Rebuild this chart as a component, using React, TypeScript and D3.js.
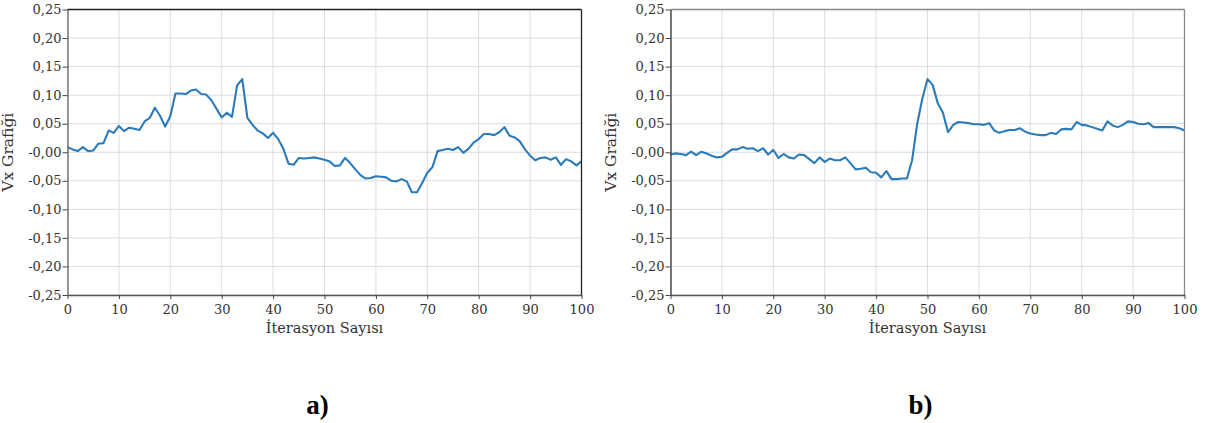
import { useEffect, useRef } from "react";
import * as d3 from "d3";

// Vx values per iteration (0..100)
const seriesA = [
  0.009, 0.005, 0.002, 0.009, 0.002, 0.003, 0.015, 0.016, 0.038, 0.034,
  0.046, 0.037, 0.043, 0.041, 0.039, 0.054, 0.06, 0.078, 0.064, 0.045,
  0.063, 0.103, 0.103, 0.102, 0.108, 0.11, 0.102, 0.101, 0.091, 0.076,
  0.061, 0.069, 0.062, 0.117, 0.128, 0.06, 0.048, 0.038, 0.033, 0.025,
  0.034, 0.023, 0.006, -0.02, -0.022, -0.01, -0.011, -0.01, -0.009, -0.011,
  -0.013, -0.016, -0.024, -0.023, -0.01, -0.019, -0.03, -0.04, -0.046, -0.045,
  -0.042, -0.043, -0.044, -0.05, -0.051, -0.047, -0.051, -0.07, -0.07, -0.054,
  -0.036, -0.026, 0.002, 0.004, 0.006, 0.004, 0.009, -0.001, 0.006, 0.017,
  0.023, 0.032, 0.032, 0.03, 0.035, 0.044, 0.029, 0.026, 0.019, 0.005,
  -0.006, -0.014, -0.01, -0.009, -0.013, -0.009, -0.022, -0.012, -0.016, -0.023,
  -0.016,
];

const seriesB = [
  -0.004, -0.002, -0.003, -0.005, 0.001, -0.005, 0.001, -0.002, -0.006, -0.009,
  -0.008, -0.001, 0.005, 0.005, 0.009, 0.006, 0.007, 0.002, 0.007, -0.004,
  0.004, -0.01, -0.003, -0.009, -0.011, -0.004, -0.005, -0.012, -0.019, -0.009,
  -0.017, -0.011, -0.014, -0.014, -0.009, -0.019, -0.03, -0.029, -0.027, -0.035,
  -0.036, -0.044, -0.033, -0.047, -0.047, -0.046, -0.046, -0.014, 0.05, 0.094,
  0.128, 0.118, 0.086, 0.069, 0.035, 0.048, 0.053, 0.052, 0.051, 0.049,
  0.049, 0.048, 0.051, 0.038, 0.034, 0.037, 0.039, 0.039, 0.042, 0.036,
  0.033, 0.031, 0.03, 0.03, 0.034, 0.032, 0.04, 0.041, 0.04, 0.053,
  0.048, 0.047, 0.044, 0.041, 0.038, 0.054, 0.047, 0.044, 0.048, 0.054,
  0.053, 0.05, 0.049, 0.051, 0.044, 0.044, 0.044, 0.044, 0.044, 0.042,
  0.038,
];

const xTicks = [0, 10, 20, 30, 40, 50, 60, 70, 80, 90, 100];
const yTicks = [-0.25, -0.2, -0.15, -0.1, -0.05, 0, 0.05, 0.1, 0.15, 0.2, 0.25];
const yTickLabels = [
  "-0,25", "-0,20", "-0,15", "-0,10", "-0,05", "-0,00",
  "0,05", "0,10", "0,15", "0,20", "0,25",
];
const panelLabels = ["a)", "b)"];
const xTitle = "İterasyon Sayısı";
const yTitle = "Vx Grafiği";

const FONT = "DejaVu Serif";

export default function App() {
  const svgRef = useRef<SVGSVGElement>(null);

  useEffect(() => {
    if (!svgRef.current) return;
    const svg = d3.select(svgRef.current);
    svg.selectAll("*").remove();

    const top = 9.5;
    const height = 285.5;
    const width = 514;
    const lefts = [67.5, 670.5];
    const frames = [
      { left: "#666", bottom: "#555", top: "#222", right: "#222" },
      { left: "#333", bottom: "#555", top: "#888", right: "#888" },
    ];

    [seriesA, seriesB].forEach((series, p) => {
      const g = svg.append("g").attr("transform", `translate(${lefts[p]},${top})`);

      const x = d3.scaleLinear().domain([0, 100]).range([0, width]);
      const y = d3.scaleLinear().domain([-0.25, 0.25]).range([height, 0]);

      // Grid
      g.append("g")
        .selectAll("line")
        .data(xTicks)
        .join("line")
        .attr("x1", (d) => x(d))
        .attr("x2", (d) => x(d))
        .attr("y1", 0)
        .attr("y2", height)
        .attr("stroke", "#dcdcdc")
        .attr("stroke-width", 1);
      g.append("g")
        .selectAll("line")
        .data(yTicks)
        .join("line")
        .attr("x1", 0)
        .attr("x2", width)
        .attr("y1", (d) => y(d))
        .attr("y2", (d) => y(d))
        .attr("stroke", "#dcdcdc")
        .attr("stroke-width", 1);

      // Line
      const line = d3
        .line<number>()
        .x((_, i) => x(i))
        .y((d) => y(d));
      g.append("path")
        .datum(series)
        .attr("d", line)
        .attr("fill", "none")
        .attr("stroke", "#2b7bba")
        .attr("stroke-width", 2.1)
        .attr("stroke-linejoin", "round");

      // Frame (top/right)
      g.append("line")
        .attr("x1", 0).attr("x2", width).attr("y1", 0).attr("y2", 0)
        .attr("stroke", frames[p].top).attr("stroke-width", 1.3);
      g.append("line")
        .attr("x1", width).attr("x2", width).attr("y1", 0).attr("y2", height)
        .attr("stroke", frames[p].right).attr("stroke-width", 1.3);

      // X axis
      const xa = g
        .append("g")
        .attr("transform", `translate(0,${height})`)
        .call(d3.axisBottom(x).tickValues(xTicks).tickSize(4).tickSizeOuter(0).tickFormat((d) => `${d}`));
      xa.select(".domain").attr("stroke", frames[p].bottom).attr("stroke-width", 1.3);
      xa.selectAll("line").attr("stroke", "#444");
      xa.selectAll("text")
        .attr("font-family", FONT)
        .attr("font-size", "13px")
        .attr("fill", "#333")
        .attr("dy", "0.9em");

      // Y axis
      const ya = g
        .append("g")
        .call(
          d3
            .axisLeft(y)
            .tickValues(yTicks)
            .tickSize(5)
            .tickSizeOuter(0)
            .tickFormat((_, i) => yTickLabels[i])
        );
      ya.select(".domain").attr("stroke", frames[p].left).attr("stroke-width", 1.3);
      ya.selectAll("line").attr("stroke", "#444");
      ya.selectAll("text")
        .attr("font-family", FONT)
        .attr("font-size", "13px")
        .attr("fill", "#333")
        .attr("x", -6);

      // Titles
      g.append("text")
        .attr("x", width / 2)
        .attr("y", height + 38)
        .attr("text-anchor", "middle")
        .attr("font-family", FONT)
        .attr("font-size", "14.5px")
        .attr("fill", "#333")
        .text(xTitle);
      g.append("text")
        .attr("transform", `translate(${-55},${height / 2}) rotate(-90)`)
        .attr("text-anchor", "middle")
        .attr("font-family", FONT)
        .attr("font-size", "15.5px")
        .attr("fill", "#333")
        .text(yTitle);

      // Panel label
      g.append("text")
        .attr("x", width / 2 - 7)
        .attr("y", height + 119)
        .attr("text-anchor", "middle")
        .attr("font-family", "Liberation Serif")
        .attr("font-weight", "bold")
        .attr("font-size", "27px")
        .attr("fill", "#000")
        .text(panelLabels[p]);
    });
  }, []);

  return (
    <svg
      ref={svgRef}
      width={1210}
      height={423}
      style={{ position: "absolute", left: 0, top: 0, background: "#fff" }}
    />
  );
}
